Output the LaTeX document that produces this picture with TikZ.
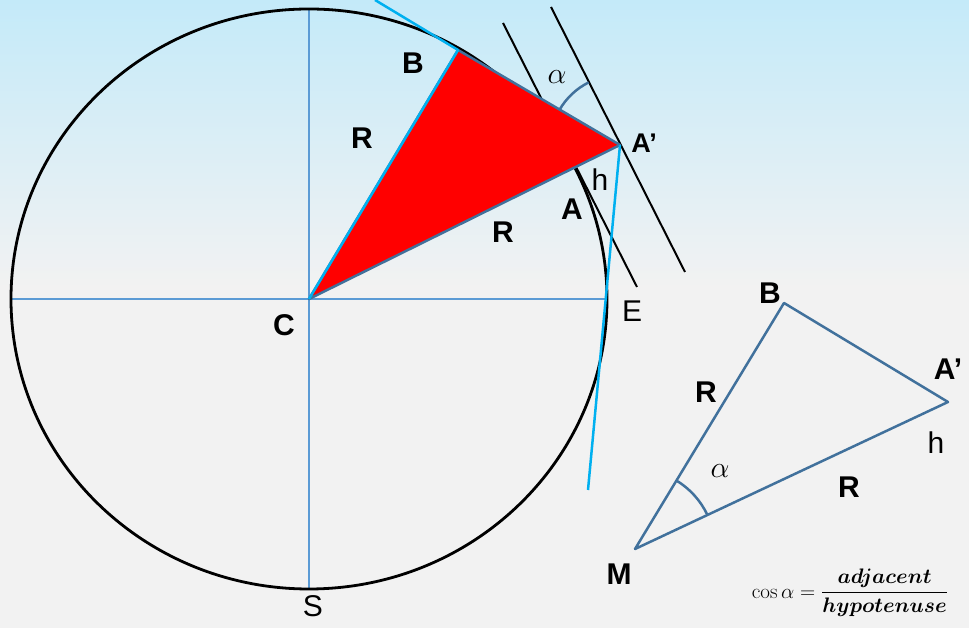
\documentclass[tikz,border=0pt]{standalone}
\usepackage{fix-cm}
\usepackage{amsmath}
\usepackage[no-math]{fontspec}
\setmainfont{Liberation Sans}

\definecolor{skyblue}{RGB}{196,234,249}
\definecolor{bggray}{RGB}{242,242,242}
\definecolor{edgeblue}{RGB}{65,113,156}
\definecolor{cyanline}{RGB}{0,176,240}
\definecolor{axisblue}{RGB}{91,155,213}

\tikzset{
    lbl/.style={font=\fontsize{30}{34}\selectfont\bfseries, inner sep=0pt},
    plainlbl/.style={font=\fontsize{30}{34}\selectfont, inner sep=0pt},
    greeklbl/.style={font=\fontsize{30}{34}\selectfont, inner sep=0pt},
    axisline/.style={axisblue, line width=1.2pt},
    tangent/.style={cyanline, line width=2.5pt},
    edge/.style={draw=edgeblue, line width=2.5pt, line join=round},
    anglearc/.style={edgeblue, line width=2.5pt},
}

\begin{document}
\begin{tikzpicture}[x=1pt, y=1pt]
    % --- 定义坐标和参数 ---
    \def\rx{298}       % 圆的水平半径
    \def\ry{290}       % 圆的垂直半径

    % --- 背景 ---
    \useasboundingbox (0,0) rectangle (969,628);
    \fill[bggray] (0,0) rectangle (969,628);
    \shade[top color=skyblue, bottom color=bggray] (0,340) rectangle (969,628);

    % --- 主要坐标 ---
    \coordinate (C) at (309,329);
    \coordinate (B) at (458,578);
    \coordinate (Ap) at (620,483);
    \coordinate (E) at (606,329);
    \coordinate (W) at (11,329);
    \coordinate (N) at (309,619);
    \coordinate (S) at (309,39);
    \coordinate (Tb) at (375,628);   % B 点切线端点
    \coordinate (Te) at (588,138);   % A' 下方切线端点
    \coordinate (L1a) at (503,605);  % 平行线一
    \coordinate (L1b) at (637,341);
    \coordinate (L2a) at (551,621);  % 平行线二
    \coordinate (L2b) at (685,356);

    % --- 绘制坐标轴和圆 ---
    \draw[axisline] (W) -- (E);
    \draw[axisline] (N) -- (S);
    \draw[line width=2.8pt] (C) ellipse[x radius=\rx, y radius=\ry];

    % --- 绘制两条平行线 ---
    \draw[line width=2pt] (L1a) -- (L1b);
    \draw[line width=2pt] (L2a) -- (L2b);

    % --- 绘制红色三角形 ---
    \filldraw[edge, fill=red] (C) -- (B) -- (Ap) -- cycle;

    % --- 绘制切线 ---
    \draw[tangent, line join=round] (Tb) -- (B) -- (C);
    \draw[tangent] (Ap) -- (Te);

    % 角 alpha
    \draw[anglearc] (Ap) ++(149.6:70) arc[start angle=149.6, end angle=116.6, radius=70];

    % --- 添加标签 ---
    \node[lbl] (labB) at (413,565) {B};
    \node[lbl] (labR1) at (362,490) {R};
    \node[lbl] (labR2) at (503,396) {R};
    \node[lbl, font=\fontsize{27}{30}\selectfont\bfseries] (labAp) at (644,485) {A’};
    \node[plainlbl] (labh) at (600,448) {h};
    \node[lbl] (labA) at (572,419) {A};
    \node[lbl] (labC) at (284,303) {C};
    \node[plainlbl] (labE) at (632,317) {E};
    \node[plainlbl] (labS) at (313,22) {S};
    \node[greeklbl] (laba) at (557,551) {$\alpha$};

    % --- 右侧三角形 ---
    \coordinate (M) at (635,79);
    \coordinate (B2) at (784,325);
    \coordinate (A2) at (948,226);
    \draw[edge] (M) -- (B2) -- (A2) -- cycle;
    \draw[anglearc] (M) ++(25.2:80) arc[start angle=25.2, end angle=58.8, radius=80];

    \node[lbl] (labB2) at (770,335) {B};
    \node[lbl] (labA2) at (948,259) {A’};
    \node[lbl] (labR3) at (706,236) {R};
    \node[plainlbl] (labh2) at (936,185) {h};
    \node[lbl] (labR4) at (849,141) {R};
    \node[lbl] (labM) at (619,54) {M};
    \node[greeklbl] (laba2) at (720,157) {$\alpha$};

    % 公式
    \node[font=\fontsize{21}{25}\selectfont, inner sep=0pt] (cosf) at (850,35)
        {$\displaystyle\cos\alpha=\frac{\boldsymbol{adjacent}}{\boldsymbol{hypotenuse}}$};

\end{tikzpicture}
\end{document}
